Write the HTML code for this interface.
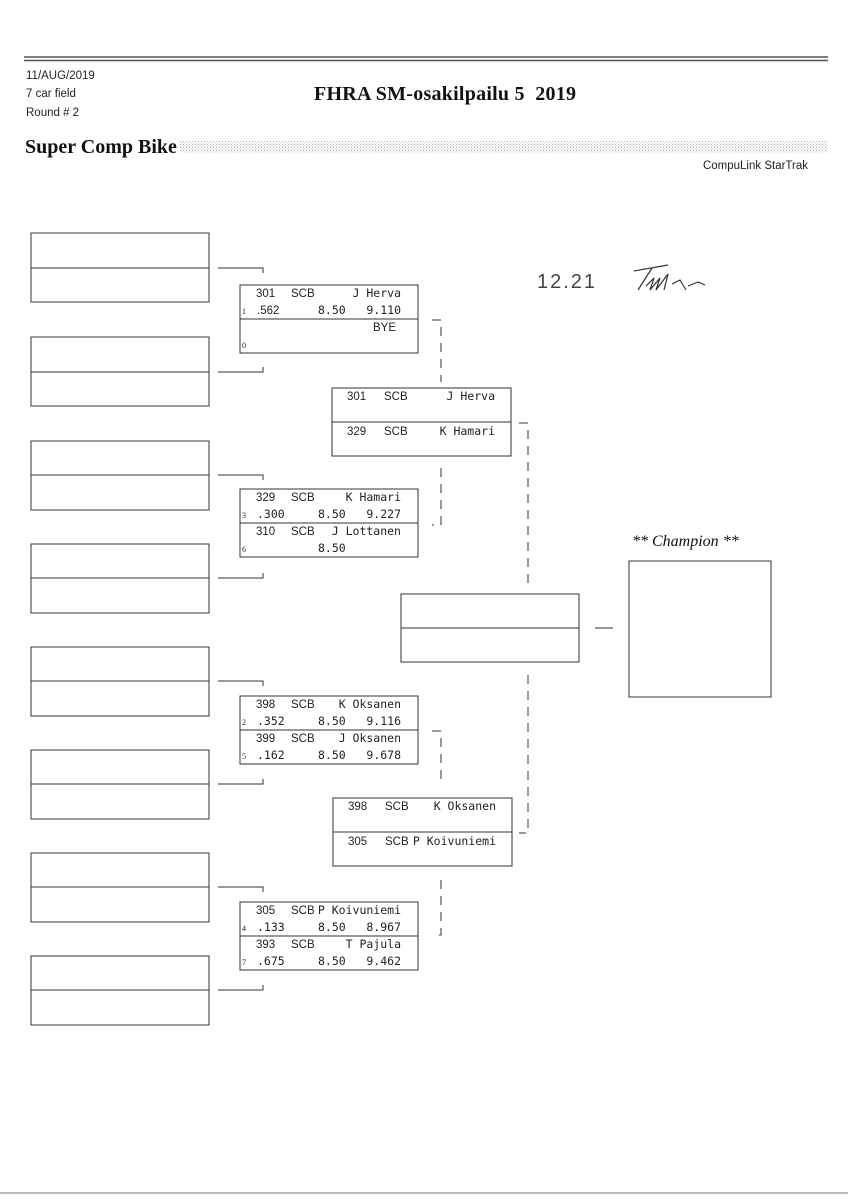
<!DOCTYPE html>
<html><head><meta charset="utf-8"><style>
html,body{margin:0;padding:0;background:#fff}
svg{display:block}
.m{font-family:"DejaVu Sans Mono","Liberation Mono",monospace;font-size:11.5px;fill:#222}
.s{font-family:"Liberation Sans",sans-serif;font-size:11.5px;fill:#222}
.sd{font-family:"Liberation Serif",serif;font-size:8px;fill:#222}
</style></head><body>
<svg width="848" height="1200" viewBox="0 0 848 1200" xmlns="http://www.w3.org/2000/svg">
<defs><pattern id="p" width="3" height="3" patternUnits="userSpaceOnUse"><rect width="3" height="3" fill="#fff"/><rect width="1" height="1" fill="#aaa"/><rect x="1.5" y="1.5" width="1" height="1" fill="#bbb"/></pattern></defs>
<line x1="24" y1="57" x2="828" y2="57" stroke="#555" stroke-width="1.5"/>
<line x1="24" y1="60.5" x2="828" y2="60.5" stroke="#555" stroke-width="1.5"/>
<text x="26" y="79" font-family="Liberation Sans Narrow,Liberation Sans,sans-serif" font-size="11.5" fill="#222">11/AUG/2019</text>
<text x="26" y="97" font-family="Liberation Sans Narrow,Liberation Sans,sans-serif" font-size="11.5" fill="#222">7 car field</text>
<text x="26" y="116" font-family="Liberation Sans Narrow,Liberation Sans,sans-serif" font-size="11.5" fill="#222">Round # 2</text>
<text x="314" y="100" textLength="262" font-family="Liberation Serif,serif" font-weight="bold" font-size="20" fill="#111" xml:space="preserve">FHRA SM-osakilpailu 5  2019</text>
<text x="25" y="153" font-family="Liberation Serif,serif" font-weight="bold" font-size="20" fill="#111">Super Comp Bike</text>
<rect x="180" y="141" width="648" height="12" fill="url(#p)"/>
<text x="808" y="169" text-anchor="end" font-family="Liberation Sans Narrow,Liberation Sans,sans-serif" font-size="11.5" fill="#222">CompuLink StarTrak</text>

<g fill="none" stroke="#333" stroke-width="1">
<rect x="31" y="233" width="178" height="69"/><line x1="31" y1="268" x2="209" y2="268"/>
<rect x="31" y="337" width="178" height="69"/><line x1="31" y1="372" x2="209" y2="372"/>
<rect x="31" y="441" width="178" height="69"/><line x1="31" y1="475" x2="209" y2="475"/>
<rect x="31" y="544" width="178" height="69"/><line x1="31" y1="578" x2="209" y2="578"/>
<rect x="31" y="647" width="178" height="69"/><line x1="31" y1="681" x2="209" y2="681"/>
<rect x="31" y="750" width="178" height="69"/><line x1="31" y1="784" x2="209" y2="784"/>
<rect x="31" y="853" width="178" height="69"/><line x1="31" y1="887" x2="209" y2="887"/>
<rect x="31" y="956" width="178" height="69"/><line x1="31" y1="990" x2="209" y2="990"/>
<path d="M218 268H263V273M218 372H263V367M218 475H263V480M218 578H263V573M218 681H263V686M218 784H263V779M218 887H263V892M218 990H263V985"/>
<rect x="240" y="285" width="178" height="68"/><line x1="240" y1="319" x2="418" y2="319"/>
<rect x="240" y="489" width="178" height="68"/><line x1="240" y1="523" x2="418" y2="523"/>
<rect x="240" y="696" width="178" height="68"/><line x1="240" y1="730" x2="418" y2="730"/>
<rect x="240" y="902" width="178" height="68"/><line x1="240" y1="936" x2="418" y2="936"/>
<rect x="332" y="388" width="179" height="68"/><line x1="332" y1="422" x2="511" y2="422"/>
<rect x="333" y="798" width="179" height="68"/><line x1="333" y1="832" x2="512" y2="832"/>
<rect x="401" y="594" width="178" height="68"/><line x1="401" y1="628" x2="579" y2="628"/>
<line x1="595" y1="628" x2="613" y2="628"/>
<rect x="629" y="561" width="142" height="136"/>
</g>
<g fill="none" stroke="#333" stroke-width="1" stroke-dasharray="9,7">
<path d="M432 320H441V382"/>
<path d="M441 468V525H432"/>
<path d="M519 423H528V585"/>
<path d="M528 675V833H519"/>
<path d="M432 731H441V780"/>
<path d="M441 880V935H432"/>
</g>

<text class="s" x="256" y="297">301</text><text class="s" x="291" y="297">SCB</text><text class="m" x="401" y="297" text-anchor="end">J Herva</text>
<text class="sd" x="242" y="314">1</text><text class="s" x="257" y="314">.562</text><text class="m" x="318" y="314">8.50</text><text class="m" x="401" y="314" text-anchor="end">9.110</text>
<text class="s" x="396" y="331" text-anchor="end">BYE</text><text class="sd" x="242" y="348">0</text>
<text class="s" x="256" y="501">329</text><text class="s" x="291" y="501">SCB</text><text class="m" x="401" y="501" text-anchor="end">K Hamari</text>
<text class="sd" x="242" y="518">3</text><text class="m" x="257" y="518">.300</text><text class="m" x="318" y="518">8.50</text><text class="m" x="401" y="518" text-anchor="end">9.227</text>
<text class="s" x="256" y="535">310</text><text class="s" x="291" y="535">SCB</text><text class="m" x="401" y="535" text-anchor="end">J Lottanen</text>
<text class="sd" x="242" y="552">6</text><text class="m" x="318" y="552">8.50</text>
<text class="s" x="256" y="708">398</text><text class="s" x="291" y="708">SCB</text><text class="m" x="401" y="708" text-anchor="end">K Oksanen</text>
<text class="sd" x="242" y="725">2</text><text class="m" x="257" y="725">.352</text><text class="m" x="318" y="725">8.50</text><text class="m" x="401" y="725" text-anchor="end">9.116</text>
<text class="s" x="256" y="742">399</text><text class="s" x="291" y="742">SCB</text><text class="m" x="401" y="742" text-anchor="end">J Oksanen</text>
<text class="sd" x="242" y="759">5</text><text class="m" x="257" y="759">.162</text><text class="m" x="318" y="759">8.50</text><text class="m" x="401" y="759" text-anchor="end">9.678</text>
<text class="s" x="256" y="914">305</text><text class="s" x="291" y="914">SCB</text><text class="m" x="401" y="914" text-anchor="end">P Koivuniemi</text>
<text class="sd" x="242" y="931">4</text><text class="m" x="257" y="931">.133</text><text class="m" x="318" y="931">8.50</text><text class="m" x="401" y="931" text-anchor="end">8.967</text>
<text class="s" x="256" y="948">393</text><text class="s" x="291" y="948">SCB</text><text class="m" x="401" y="948" text-anchor="end">T Pajula</text>
<text class="sd" x="242" y="965">7</text><text class="m" x="257" y="965">.675</text><text class="m" x="318" y="965">8.50</text><text class="m" x="401" y="965" text-anchor="end">9.462</text>
<text class="s" x="347" y="400">301</text><text class="s" x="384" y="400">SCB</text><text class="m" x="495" y="400" text-anchor="end">J Herva</text>
<text class="s" x="347" y="435">329</text><text class="s" x="384" y="435">SCB</text><text class="m" x="495" y="435" text-anchor="end">K Hamari</text>
<text class="s" x="348" y="810">398</text><text class="s" x="385" y="810">SCB</text><text class="m" x="496" y="810" text-anchor="end">K Oksanen</text>
<text class="s" x="348" y="845">305</text><text class="s" x="385" y="845">SCB</text><text class="m" x="496" y="845" text-anchor="end">P Koivuniemi</text>

<text x="632" y="546" font-family="Liberation Serif,serif" font-style="italic" font-size="16" fill="#111">** Champion **</text>
<text x="537" y="288" font-family="Liberation Sans,sans-serif" font-size="20" fill="#444" letter-spacing="2">12.21</text>
<path d="M634 271L668 265M652 268L638 290M646 286L654 278L650 290L660 278L656 290L668 274L664 290M672 284L680 280L686 290M688 286L698 282L705 285" fill="none" stroke="#333" stroke-width="1.2"/>
<line x1="0" y1="1193" x2="848" y2="1193" stroke="#777" stroke-width="1"/>
</svg>
</body></html>
